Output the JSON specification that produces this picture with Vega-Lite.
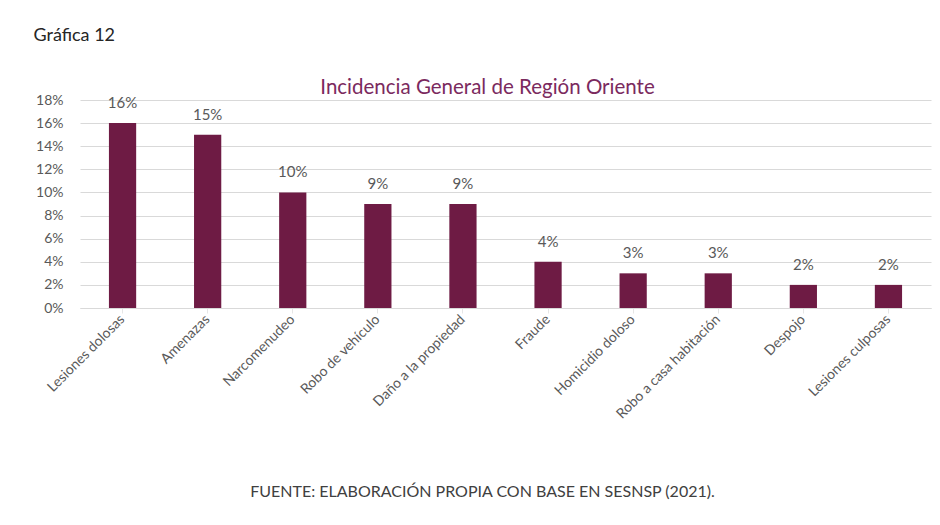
{
  "$schema": "https://vega.github.io/schema/vega-lite/v6.json",
  "autosize": "none",
  "width": 851,
  "height": 208,
  "padding": {"left": 80, "top": 100, "right": 9, "bottom": 217},
  "background": "white",
  "config": {
    "font": "Lato",
    "view": {"stroke": null}
  },
  "title": {
    "text": "Incidencia General de Región Oriente",
    "anchor": "middle",
    "fontSize": 20.5,
    "fontWeight": "normal",
    "color": "#7B2A5E",
    "offset": -72,
    "dx": -18
  },
  "data": {
    "values": [
      {"delito": "Lesiones dolosas", "valor": 0.16},
      {"delito": "Amenazas", "valor": 0.15},
      {"delito": "Narcomenudeo", "valor": 0.10},
      {"delito": "Robo de vehículo", "valor": 0.09},
      {"delito": "Daño a la propiedad", "valor": 0.09},
      {"delito": "Fraude", "valor": 0.04},
      {"delito": "Homicidio doloso", "valor": 0.03},
      {"delito": "Robo a casa habitación", "valor": 0.03},
      {"delito": "Despojo", "valor": 0.02},
      {"delito": "Lesiones culposas", "valor": 0.02}
    ]
  },
  "encoding": {
    "x": {
      "field": "delito",
      "type": "nominal",
      "sort": null,
      "scale": {"paddingInner": 0.68, "paddingOuter": 0.34},
      "axis": {
        "title": "FUENTE: ELABORACIÓN PROPIA CON BASE EN SESNSP (2021).",
        "titleFontSize": 16,
        "titleFontWeight": "normal",
        "titleColor": "#404040",
        "titlePadding": 62,
        "titleX": 402,
        "labelAngle": -45,
        "labelAlign": "right",
        "labelBaseline": "middle",
        "labelFontSize": 14,
        "labelColor": "#595959",
        "labelPadding": 4,
        "domainColor": "#d9d9d9",
        "tickColor": "#e6e6e6",
        "tickSize": 5
      }
    },
    "y": {
      "field": "valor",
      "type": "quantitative",
      "scale": {"domain": [0, 0.18]},
      "axis": {
        "values": [0, 0.02, 0.04, 0.06, 0.08, 0.1, 0.12, 0.14, 0.16, 0.18],
        "format": ".0%",
        "title": "Gráfica 12",
        "titleAngle": 0,
        "titleAlign": "left",
        "titleBaseline": "alphabetic",
        "titleX": -47,
        "titleY": -60,
        "titleFontSize": 18,
        "titleFontWeight": "normal",
        "titleColor": "#262626",
        "labelFontSize": 14,
        "labelColor": "#595959",
        "labelPadding": 17,
        "domain": false,
        "ticks": false,
        "gridColor": "#d9d9d9"
      }
    }
  },
  "layer": [
    {"mark": {"type": "bar", "color": "#6E1B44"}},
    {
      "mark": {"type": "text", "baseline": "bottom", "dy": -12, "fontSize": 15, "color": "#595959"},
      "encoding": {"text": {"field": "valor", "type": "quantitative", "format": ".0%"}}
    }
  ]
}
